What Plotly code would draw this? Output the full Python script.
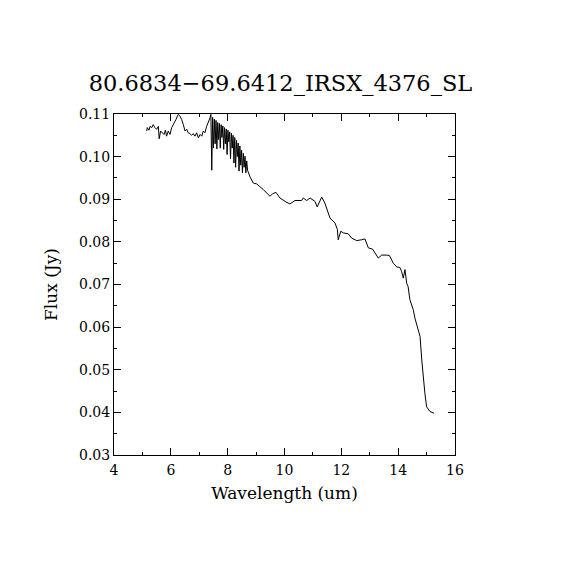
import plotly.graph_objects as go

# spectrum
wavelength = [
    5.15, 5.17, 5.23, 5.27, 5.33, 5.38, 5.44, 5.50, 5.56, 5.59, 5.64, 5.71, 5.76, 5.81, 5.85,
    5.91, 5.97, 6.03, 6.09, 6.18, 6.23, 6.26, 6.32, 6.38, 6.44, 6.50, 6.56, 6.61, 6.67, 6.73,
    6.79, 6.85, 6.91, 6.97, 7.03, 7.09, 7.14, 7.20, 7.26, 7.32, 7.38, 7.41, 7.44,
    7.47, 7.50, 7.53, 7.56, 7.59, 7.62, 7.65, 7.68, 7.71, 7.74, 7.77, 7.80, 7.83, 7.86,
    7.89, 7.92, 7.95, 7.98, 8.01, 8.04, 8.07, 8.10, 8.13, 8.16, 8.19, 8.22, 8.25, 8.28,
    8.31, 8.34, 8.37, 8.40, 8.43, 8.46, 8.49, 8.52, 8.55, 8.58, 8.61, 8.64, 8.67, 8.70,
    8.79, 8.90, 9.02, 9.25, 9.49, 9.58, 9.70, 9.84, 10.02, 10.19, 10.37, 10.60, 10.66,
    10.78, 10.90, 11.07, 11.15, 11.31, 11.42, 11.54, 11.60, 11.78, 11.86, 11.89, 11.98,
    12.07, 12.24, 12.36, 12.54, 12.72, 12.83, 12.95, 13.10, 13.30, 13.42, 13.60, 13.69,
    13.83, 13.95, 14.06, 14.12, 14.18, 14.24, 14.30, 14.35, 14.41, 14.53, 14.59, 14.71,
    14.77, 14.83, 14.88, 14.94, 15.00, 15.12, 15.26,
]
flux = [
    0.1060, 0.1068, 0.1062, 0.1071, 0.1068, 0.1075, 0.1068, 0.1064, 0.1071, 0.1042, 0.1060,
    0.1056, 0.1052, 0.1062, 0.1048, 0.1060, 0.1052, 0.1068, 0.1075, 0.1087, 0.1095, 0.1099,
    0.1095, 0.1087, 0.1075, 0.1060, 0.1064, 0.1056, 0.1054, 0.1050, 0.1054, 0.1048, 0.1056,
    0.1044, 0.1052, 0.1048, 0.1060, 0.1056, 0.1071, 0.1079, 0.1091, 0.1099, 0.0968,
    0.1092, 0.1020, 0.1088, 0.1030, 0.1085, 0.1018, 0.1080, 0.1040, 0.1078, 0.1020, 0.1075,
    0.1045, 0.1072, 0.1017, 0.1068, 0.1030, 0.1065, 0.1005, 0.1062, 0.1035, 0.1058, 0.0995,
    0.1055, 0.1020, 0.1050, 0.0985, 0.1045, 0.0975, 0.1038, 0.1000, 0.1032, 0.0966, 0.1025,
    0.0980, 0.1015, 0.0962, 0.1008, 0.0975, 0.1001, 0.0962, 0.0990, 0.0968,
    0.0952, 0.0938, 0.0936, 0.0923, 0.0907, 0.0913, 0.0916, 0.0903, 0.0895, 0.0889, 0.0897,
    0.0897, 0.0903, 0.0897, 0.0903, 0.0895, 0.0882, 0.0905, 0.0891, 0.0868, 0.0856, 0.0844,
    0.0829, 0.0805, 0.0825, 0.0821, 0.0819, 0.0809, 0.0803, 0.0805, 0.0807, 0.0786, 0.0783,
    0.0762, 0.0769, 0.0769, 0.0768, 0.0750, 0.0741, 0.0740, 0.0731, 0.0715, 0.0735, 0.0703,
    0.0695, 0.0665, 0.0641, 0.0621, 0.0594, 0.0578, 0.0523, 0.0484, 0.0445, 0.0413, 0.0402,
    0.0398,
]

title = "80.6834\u221269.6412_IRSX_4376_SL"
font = "DejaVu Serif"

fig = go.Figure(go.Scatter(x=wavelength, y=flux, mode="lines",
                           line=dict(color="black", width=1), hoverinfo="skip"))

axis_style = dict(
    showline=True, linecolor="black", linewidth=1, mirror="ticks",
    ticks="inside", ticklen=7, tickwidth=1, tickcolor="black",
    showgrid=False, zeroline=False,
    tickfont=dict(family=font, size=14, color="black"),
)

fig.update_xaxes(
    range=[4, 16], dtick=2, tick0=4, ticklabelstandoff=2,
    minor=dict(ticks="inside", ticklen=3, dtick=1, tickcolor="black"),
    title=dict(text="Wavelength (um)", font=dict(family=font, size=17, color="black"), standoff=10),
    **axis_style,
)
fig.update_yaxes(
    range=[0.03, 0.11], dtick=0.01, tick0=0.03, tickformat=".2f",
    minor=dict(ticks="inside", ticklen=3, dtick=0.005, tickcolor="black"),
    title=dict(text="Flux (Jy)", font=dict(family=font, size=17, color="black"), standoff=17),
    **axis_style,
)

# the page body adds 8 px on the top and left, so margins are shifted to match
fig.update_layout(
    width=570, height=570,
    margin=dict(l=106, r=123, t=106, b=123),
    paper_bgcolor="white", plot_bgcolor="white",
    showlegend=False,
    title=dict(text=title, x=(280.5 - 8) / 570, xanchor="center", y=1 - 75 / 570, yanchor="middle",
               font=dict(family=font, size=22.5, color="black")),
)

fig.write_html("out.html")
